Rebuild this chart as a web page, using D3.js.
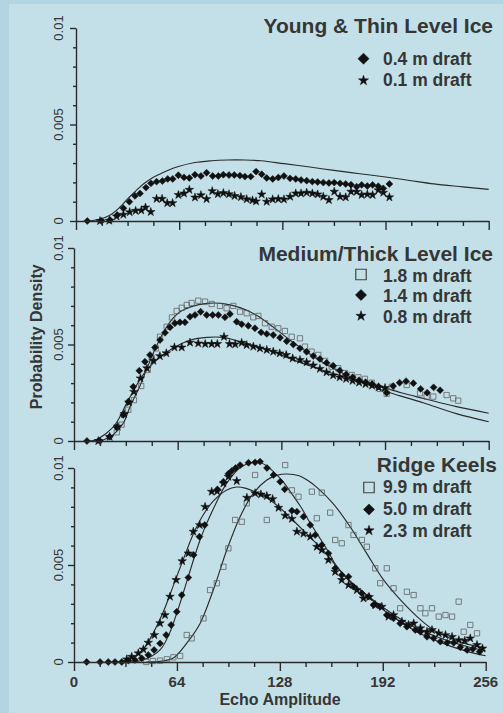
<!DOCTYPE html>
<html>
<head>
<meta charset="utf-8">
<script src="https://cdn.jsdelivr.net/npm/d3@7"></script>
<style>
  html, body { margin: 0; padding: 0; background: #b3d5e1; }
  svg { display: block; font-family: "Liberation Sans", Arial, Helvetica, sans-serif; }
</style>
</head>
<body>
<svg id="chart" width="503" height="713"></svg>
<script>
// ---- Data: echo amplitude (0-256) vs probability density, density in units of 0.001 ----
const DENSITY_UNIT = 0.001;

const amplitudeLabels = ["0", "64", "128", "192", "256"];
const amplitudeLabelValues = [0, 64, 128, 192, 256];
const densityLabels = ["0", "0.005", "0.01"];
const densityLabelValues = [0, 0.005, 0.01];

const panelTitles = ["Young & Thin Level Ice", "Medium/Thick Level Ice", "Ridge Keels"];
const youngLegend = ["0.4 m draft", "0.1 m draft"];
const mediumLegend = ["1.8 m draft", "1.4 m draft", "0.8 m draft"];
const keelLegend = ["9.9 m draft", "5.0 m draft", "2.3 m draft"];

// Young & thin level ice
const young04 = [[7,0],[15.9,0],[21.1,0.05],[25.6,0.31],[29.4,0.66],[33.1,1.0],[36.6,1.3],[39.7,1.43],[43.4,1.73],[46.5,1.95],[50,2.04],[53.6,2.07],[56.9,2.18],[60,2.18],[63.5,2.37],[67,2.26],[70.3,2.23],[73.8,2.4],[77.5,2.33],[81,2.5],[84.8,2.33],[88.3,2.33],[91.4,2.4],[94.9,2.38],[98.2,2.38],[101.7,2.35],[104.8,2.3],[108.4,2.3],[111.7,2.56],[115.2,2.42],[118.3,2.23],[122,2.18],[125.5,2.25],[129,2.33],[132.8,2.21],[136.3,2.18],[139.6,2.12],[143.1,2.09],[146.6,2.04],[149.9,2.02],[153.4,1.99],[156.9,1.97],[160.2,1.99],[163.8,1.95],[167.3,1.92],[170.6,1.88],[174.1,1.78],[177.2,1.87],[180.7,1.81],[184,1.87],[187.5,1.8],[190.6,1.69],[194.4,1.92]];
const young01 = [[14.9,0],[20.7,0.02],[25.2,0.24],[29.4,0.33],[33.3,0.46],[37,0.53],[40.5,0.55],[43.1,0.7],[46.4,0.47],[50,1.15],[53.4,1.15],[56.6,0.93],[59.9,0.93],[63.5,1.35],[67,1.43],[70.3,1.62],[73.8,1.22],[77.5,1.34],[81,1.14],[84.5,1.55],[88,1.4],[91.4,1.45],[94.9,1.39],[98.4,1.3],[102.3,1.24],[105.9,1.13],[109.5,1.07],[111.7,1.02],[115.2,1.38],[118.3,1.0],[122,1.12],[125.5,1.14],[129,1.12],[132.8,1.26],[136.3,1.43],[139.6,1.43],[143.1,1.47],[146.6,1.43],[149.9,1.38],[153.4,1.26],[156.9,1.09],[160.2,1.52],[163.8,1.26],[167.3,1.23],[170.6,1.52],[174.1,1.52],[177.2,1.35],[180.7,1.38],[184,1.35],[187.5,1.6],[190.6,1.47],[194.4,1.23]];
const youngFit = [[8,0],[14,0.08],[21,0.3],[27,0.7],[32,1.15],[37,1.55],[42,1.93],[47,2.22],[53,2.47],[58,2.66],[63,2.81],[73,3.02],[84,3.12],[94,3.16],[105,3.16],[115,3.12],[129,2.97],[145,2.8],[160,2.62],[176,2.45],[192,2.28],[207,2.1],[222,1.92],[240,1.77],[256,1.64]];

// Medium / thick level ice
const medium18 = [[26.4,0.45],[29.4,0.85],[33.5,1.62],[37,2.12],[41.5,2.85],[45.5,3.68],[48,4.3],[50.5,4.8],[53.1,5.4],[57.2,5.92],[60.5,6.4],[63.4,6.74],[66.5,6.9],[69.6,7.05],[72.6,7.15],[76.7,7.27],[80.9,7.22],[85,7.1],[90.1,7.0],[94.2,6.88],[98.3,7.0],[102.5,6.7],[106.6,6.62],[110.7,6.41],[113.8,6.48],[117.9,6.1],[122,5.92],[126.1,5.84],[130.2,5.7],[134.4,5.4],[139.5,5.32],[142.6,4.89],[146.7,4.63],[150.8,4.46],[155,4.15],[159.1,3.85],[163.2,3.77],[167.3,3.52],[171.4,3.42],[175.5,3.3],[179.6,3.22],[183.8,3.02],[188.9,2.7],[193,2.45],[196.1,2.81],[205.4,2.9],[213.6,2.47],[217.7,2.3],[221.8,2.3],[230,2.38],[234.1,2.21],[237.2,2.09]];
const medium14 = [[8,0],[16,0],[22,0.22],[26.4,0.71],[30.4,1.35],[33.5,2.04],[36.6,2.81],[40.3,3.64],[43.8,4.11],[46.9,4.46],[50,4.85],[53.1,5.23],[56.2,5.61],[59.3,5.89],[62.3,6.1],[65.4,6.15],[68.5,6.15],[71.6,6.44],[74.7,6.53],[78.2,6.7],[81.9,6.53],[85.6,6.53],[89.1,6.53],[93.2,6.41],[96.3,6.58],[100.4,6.18],[103.5,6.05],[107.6,5.97],[111.7,5.84],[115.5,5.63],[119,5.55],[123,5.49],[127.2,5.35],[131.3,5.17],[135.4,5.0],[139.5,4.8],[143.6,4.62],[147.7,4.4],[151.8,4.25],[155.9,4.05],[160,3.9],[164,3.65],[168,3.45],[172,3.3],[176,3.15],[180,3.05],[184,2.95],[188,2.82],[193,2.5],[197,2.85],[201,3.02],[205,3.1],[209.5,2.99],[214,2.7],[218,2.5],[222,2.78],[226,2.63]];
const medium08 = [[15,0],[22,0.22],[27,0.75],[31,1.4],[34,2.0],[37,2.55],[41,3.25],[45,3.77],[49,4.16],[53,4.4],[57,4.55],[62,4.85],[66.5,4.85],[71.6,5.1],[76.7,5.06],[81,5.03],[85,5.03],[88.5,5.03],[92.6,5.4],[96,5.03],[99.5,5.01],[103.5,5.09],[106.6,4.97],[110.7,4.89],[114.8,4.8],[119,4.72],[123,4.63],[127,4.54],[131,4.46],[135,4.28],[139.5,4.2],[143.6,4.08],[147.7,3.92],[151.8,3.74],[155.9,3.56],[160,3.4],[164,3.3],[168,3.22],[172,3.12],[176,3.03],[180,2.95],[184,2.87],[188,2.78],[192,2.75]];
const mediumFitThick = [[14,0],[18,0.05],[24,0.31],[30.4,0.92],[34.6,1.78],[40.7,2.85],[45,3.75],[50,4.75],[55,5.6],[61,6.35],[66,6.72],[72,6.95],[82,7.13],[92,7.12],[102.5,6.91],[113,6.5],[123,5.9],[133,5.25],[144,4.6],[154,4.05],[165,3.55],[175,3.15],[185,2.8],[195,2.5],[205,2.25],[216,1.97],[236,1.42],[256,1.0]];
const mediumFitThin = [[8,0],[12,0.02],[20,0.4],[26,0.92],[32.5,1.95],[38.7,2.9],[44.9,3.68],[51,4.2],[61,4.8],[72,5.23],[82,5.37],[92,5.37],[102.5,5.15],[113,4.89],[123,4.63],[133,4.28],[144,3.94],[154,3.65],[165,3.38],[175,3.15],[189,2.82],[202,2.5],[216,2.2],[236,1.78],[256,1.44]];

// Ridge keels
const keel99 = [[45,0],[49,0.05],[53.5,0.07],[57.7,0.14],[61.8,0.24],[66,0.31],[70.1,1.39],[73.2,1.22],[80.5,2.25],[84.6,3.71],[88.8,4.06],[92.9,4.91],[96,5.86],[100.2,7.32],[104.3,7.23],[107.4,8.18],[112.6,9.64],[119.9,7.32],[131.3,10.15],[135.5,8.85],[139.6,8.52],[147.9,8.78],[151,7.41],[154.1,8.73],[159.3,7.7],[162.4,6.29],[166.5,6.12],[170.7,7.06],[173.8,6.55],[179,6.29],[182.1,5.94],[187.3,4.83],[190.4,4.06],[194.5,4.83],[198.7,3.8],[202.8,2.77],[207,3.62],[211.2,3.45],[215.4,2.77],[218.5,2.51],[222.6,2.77],[226.8,2.34],[231,2.42],[235.1,2.34],[239.2,3.11],[242.3,1.56],[246.4,1.91],[250.6,1.48]];
const keel50 = [[7.9,0],[16.2,0],[21.3,0],[25.5,0],[29.7,0],[33.8,0.07],[37.9,0.1],[42.1,0.19],[46.2,0.36],[49.8,0.62],[53.5,0.96],[57.3,1.39],[60.4,1.91],[63.9,2.59],[67,3.45],[71.1,4.35],[74.4,5.52],[78,6.46],[81.3,7.06],[89.2,8.9],[92.9,9.29],[96,9.7],[98.1,9.85],[100.5,10.0],[103.3,10.15],[108.5,10.27],[112.6,10.29],[115.7,10.33],[120,10.0],[124,9.64],[128.2,9.29],[131,8.9],[135.5,7.8],[138.6,7.75],[142.7,7.49],[146.9,7.06],[150,6.55],[154.1,6.03],[158.2,5.6],[162.4,4.83],[166.5,4.48],[170.7,4.4],[173.8,3.88],[179,3.54],[183.1,3.37],[186.2,2.94],[190.4,2.85],[194.5,2.42],[198.7,2.25],[202.8,1.99],[207,1.82],[212.2,1.65],[215.4,1.56],[219.5,1.3],[223.6,1.22],[227.8,1.05],[232,0.99],[236.1,0.99],[240.2,0.76],[244.4,0.62],[248,0.67],[252.2,0.53]];
const keel23 = [[32.8,0.14],[35.9,0.27],[40,0.45],[43.1,0.65],[46.2,1.0],[50,1.39],[53.5,2.0],[56.6,2.42],[59.7,3.37],[63.5,4.23],[67.3,5.2],[71.1,5.6],[74.2,6.72],[78.2,7.06],[81.5,8.0],[85.6,8.78],[89,8.8],[92.9,9.21],[96,9.55],[101.2,9.33],[107.5,8.47],[112.6,8.7],[116.2,8.64],[119.9,8.56],[123.5,8.4],[127.2,7.95],[131.3,7.55],[135.5,7.38],[138.6,6.72],[142.7,6.62],[146.9,6.46],[151,5.94],[154.1,5.77],[158.2,5.26],[162.4,4.65],[166.5,4.23],[170.7,3.97],[175.9,3.71],[180,3.28],[183.5,3.35],[187.3,2.94],[191.4,2.85],[195.6,2.34],[198.7,2.42],[203.9,2.08],[208,1.91],[211.2,1.99],[215.4,1.74],[219.5,1.56],[222.6,1.65],[226.8,1.48],[231,1.39],[235.1,1.3],[239.3,1.13],[243,1.1],[246.4,1.22],[250.6,0.88],[254,0.7]];
const keelFit99 = [[45,0],[55,0.05],[62,0.22],[70,0.96],[78.4,1.99],[86.6,3.71],[95,5.77],[103.3,7.49],[111.6,8.7],[119.9,9.38],[126,9.62],[132.4,9.69],[140,9.6],[145,9.38],[151,9.0],[161,8.18],[171.7,6.97],[182,5.6],[192.5,4.23],[203,3.2],[213.3,2.34],[223.6,1.65],[234,1.22],[244.4,0.92],[256,0.72]];
const keelFit50 = [[35,0],[43,0.1],[53.5,0.62],[60,1.6],[63,2.3],[66,3.05],[69,3.85],[72,4.65],[75,5.45],[78,6.2],[81,6.85],[85,7.6],[89,8.3],[93,8.95],[97,9.45],[103,10.0],[110,10.27],[116,10.27],[120,10.1],[124,9.81],[130,9.3],[136,8.6],[141,8.0],[147,7.15],[152,6.5],[158,5.7],[162,5.1],[167,4.55],[172,4.1],[182,3.45],[192.5,2.68],[203,2.08],[213,1.56],[224,1.15],[234,0.82],[244.4,0.55],[256,0.32]];
const keelFit23 = [[26,0],[33,0.1],[38,0.3],[43,0.65],[49,1.45],[55.6,2.6],[61.8,3.95],[68,5.3],[74.2,6.6],[80.5,7.6],[86.7,8.3],[95,8.87],[101,9.02],[107,8.95],[113,8.75],[120,8.45],[128,7.95],[136,7.32],[146,6.5],[155,5.75],[163,4.95],[172,4.15],[182,3.45],[192.5,2.8],[203,2.22],[213,1.74],[224,1.35],[234,1.05],[244.4,0.8],[256,0.57]];

// ---- Layout ----
const W = 503, H = 713;
const ink = "#2b2b2b";
const textInk = "#363636";

const panels = [
  { x0: 76, x1: 488.7, yBottom: 221, yTop: 28,
    title: panelTitles[0], titleX: 493, titleY: 32.5,
    legendMarkerX: 363.5, legendTextX: 383,
    legend: [{ label: youngLegend[0], shape: "diamond", y: 65, my: 58.7 },
             { label: youngLegend[1], shape: "star", y: 86, my: 80.5 }],
    series: [{ data: young04, shape: "diamond" }, { data: young01, shape: "star" }],
    fits: [youngFit], tickLabels: false },
  { x0: 74, x1: 488.7, yBottom: 441, yTop: 248,
    title: panelTitles[1], titleX: 493, titleY: 260.5,
    legendMarkerX: 361, legendTextX: 383,
    legend: [{ label: mediumLegend[0], shape: "square", y: 281.5, my: 274.5 },
             { label: mediumLegend[1], shape: "diamond", y: 302, my: 295 },
             { label: mediumLegend[2], shape: "star", y: 322.5, my: 316 }],
    series: [{ data: medium18, shape: "square" }, { data: medium14, shape: "diamond" }, { data: medium08, shape: "star" }],
    fits: [mediumFitThick, mediumFitThin], tickLabels: false },
  { x0: 74, x1: 485.7, yBottom: 662, yTop: 468,
    title: panelTitles[2], titleX: 497, titleY: 472,
    legendMarkerX: 369, legendTextX: 383,
    legend: [{ label: keelLegend[0], shape: "square", y: 493.3, my: 487.5 },
             { label: keelLegend[1], shape: "diamond", y: 515, my: 509.5 },
             { label: keelLegend[2], shape: "star", y: 536.7, my: 530.5 }],
    series: [{ data: keel99, shape: "square" }, { data: keel50, shape: "diamond" }, { data: keel23, shape: "star" }],
    fits: [keelFit99, keelFit50, keelFit23], tickLabels: true }
];

const svg = d3.select("#chart");

// Background with a slightly darker frame on the left and top edges
svg.append("rect").attr("width", W).attr("height", H).attr("fill", "#b3d5e1");
svg.append("rect").attr("x", 9).attr("y", 4).attr("width", W - 9).attr("height", H - 4).attr("fill", "#c3e0e9");

// Marker path generators
function markerPath(shape, big) {
  if (shape === "diamond") return d3.symbol().type(d3.symbolSquare).size(big ? 62 : 24)();
  if (shape === "star") return d3.symbol().type(d3.symbolStar).size(big ? 32 : 23)();
  return d3.symbol().type(d3.symbolSquare).size(big ? 110 : 28)();
}
function markerTransform(shape, x, y) {
  return shape === "diamond" ? `translate(${x},${y}) rotate(45)` : `translate(${x},${y})`;
}
function styleMarker(sel, shape, big) {
  if (shape === "square") {
    sel.attr("fill", "none").attr("stroke", big ? "#444" : "#5c5c5c")
       .attr("stroke-width", big ? 1.2 : 0.9).attr("stroke-opacity", big ? 1 : 0.85);
  } else {
    sel.attr("fill", "#111").attr("stroke", "#111").attr("stroke-width", 0.5);
  }
}

panels.forEach(p => {
  const x = d3.scaleLinear().domain([0, 256]).range([p.x0, p.x1]);
  const y = d3.scaleLinear().domain([0, 0.01]).range([p.yBottom, p.yTop]);
  const g = svg.append("g");

  // Fitted curves
  const line = d3.line()
    .x(d => x(d[0]))
    .y(d => y(d[1] * DENSITY_UNIT))
    .curve(d3.curveCatmullRom.alpha(0.5));
  p.fits.forEach(f => {
    g.append("path").attr("d", line(f)).attr("fill", "none")
      .attr("stroke", ink).attr("stroke-width", 1.15);
  });

  // Data points
  p.series.forEach(s => {
    const path = markerPath(s.shape, false);
    const pts = g.append("g").selectAll("path").data(s.data).join("path")
      .attr("d", path)
      .attr("transform", d => markerTransform(s.shape, x(d[0]), y(d[1] * DENSITY_UNIT)));
    styleMarker(pts, s.shape, false);
  });

  // X axis: minor tick every 16, major every 64
  const xAxis = d3.axisBottom(x).tickValues(d3.range(0, 257, 16))
    .tickSize(5).tickSizeOuter(0).tickFormat("");
  const gx = g.append("g").attr("transform", `translate(0,${p.yBottom})`).call(xAxis);
  gx.selectAll(".tick line").attr("y2", d => d % 64 === 0 ? 9 : 5);
  gx.selectAll("path, line").attr("stroke", ink).attr("stroke-width", 1.4);

  // Y axis: minor tick every 0.001, major every 0.005
  const yAxis = d3.axisLeft(y).tickValues(d3.range(0, 11).map(i => i * 0.001))
    .tickSize(3).tickSizeOuter(0).tickFormat("");
  const gy = g.append("g").attr("transform", `translate(${p.x0},0)`).call(yAxis);
  gy.selectAll(".tick line").attr("x2", (d, i) => i % 5 === 0 ? -6 : -3);
  gy.selectAll("path, line").attr("stroke", ink).attr("stroke-width", 1.4);

  // Rotated density labels
  densityLabelValues.forEach((v, i) => {
    g.append("text")
      .attr("transform", `translate(63.3,${y(v)}) rotate(-90)`)
      .attr("text-anchor", "middle")
      .attr("font-size", 13).attr("fill", textInk)
      .text(densityLabels[i]);
  });

  // Amplitude labels on the bottom panel only
  if (p.tickLabels) {
    amplitudeLabelValues.forEach((v, i) => {
      g.append("text").attr("x", x(v)).attr("y", 687.3)
        .attr("text-anchor", "middle").attr("font-size", 15).attr("font-weight", "bold")
        .attr("fill", textInk).text(amplitudeLabels[i]);
    });
  }

  // Panel title
  g.append("text").attr("x", p.titleX).attr("y", p.titleY)
    .attr("text-anchor", "end").attr("font-size", 21).attr("font-weight", "bold")
    .attr("fill", textInk).text(p.title);

  // Legend
  p.legend.forEach(item => {
    const m = g.append("path").attr("d", markerPath(item.shape, true))
      .attr("transform", markerTransform(item.shape, p.legendMarkerX, item.my));
    styleMarker(m, item.shape, true);
    g.append("text").attr("x", p.legendTextX).attr("y", item.y)
      .attr("font-size", 17.5).attr("font-weight", "bold").attr("fill", textInk)
      .text(item.label);
  });
});

// Shared axis titles
svg.append("text")
  .attr("transform", "translate(41.5,336.7) rotate(-90)")
  .attr("text-anchor", "middle").attr("font-size", 16).attr("font-weight", "bold")
  .attr("fill", textInk).text("Probability Density");

svg.append("text").attr("x", 280).attr("y", 705)
  .attr("text-anchor", "middle").attr("font-size", 16).attr("font-weight", "bold")
  .attr("fill", textInk).text("Echo Amplitude");
</script>
</body>
</html>
